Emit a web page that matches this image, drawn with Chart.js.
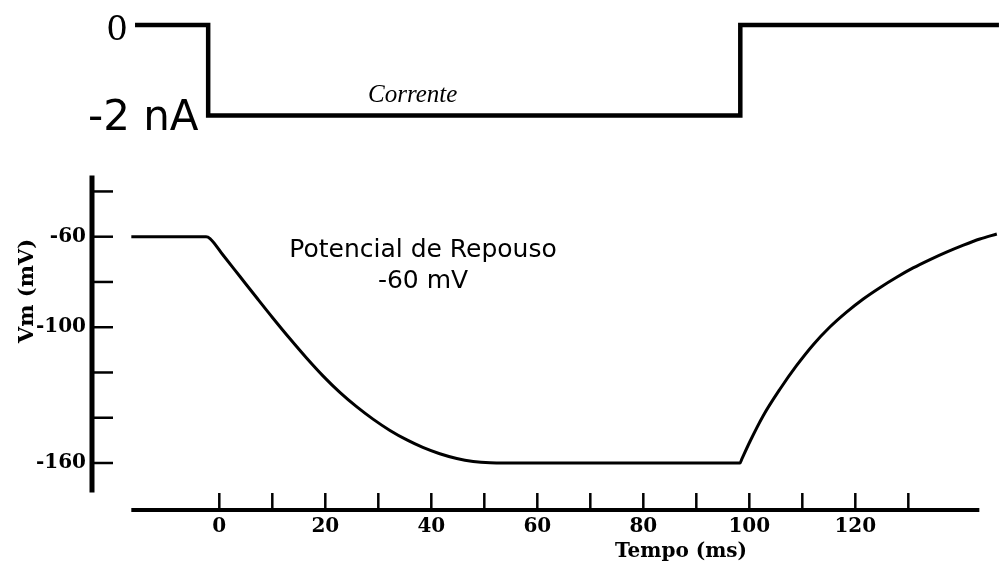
<!DOCTYPE html>
<html>
<head>
<meta charset="utf-8">
<style>
  html, body { margin: 0; padding: 0; background: #fff; }
  #wrap { width: 999px; height: 562px; position: relative; }
</style>
</head>
<body>
<div id="wrap">
  <canvas id="myChart"></canvas>
</div>
<script src="https://cdn.jsdelivr.net/npm/chart.js"></script>
<script>

// membrane potential trace: time (ms) / Vm (mV)
const vmTime = [-16.6, -2.5, -1.75, 0.7, 3.9, 7.1, 10.1, 13.3, 16.5, 19.6, 22.8, 25.9, 29.0, 32.2, 35.4, 38.4, 41.6, 44.8, 47.9, 51.1, 54,
                98.25, 98.6, 100.1, 102.6, 105.8, 108.9, 112.1, 115.2, 118.4, 121.5, 124.7, 127.8, 130.9, 134.1, 137.2, 140.4, 143.5, 146.7];
const vmValues = [-60, -60, -60.8, -68.1, -77.6, -87.1, -95.9, -105.0, -113.7, -121.6, -128.9, -135.1, -140.6, -145.6, -149.8, -153.1, -155.9, -158.0, -159.3, -159.9, -160,
                  -160, -158.2, -150.6, -139.2, -127.3, -117.0, -107.6, -99.9, -93.2, -87.5, -82.4, -77.9, -73.8, -70.1, -66.8, -63.7, -61.0, -58.8];

// injected current step: time (ms) / I (nA)
const currentTime = [-15.9, -2.1, -2.1, 98.3, 98.3, 147.1];
const currentValues = [0, 0, -2, -2, 0, 0];

const timeTicks = [0, 10, 20, 30, 40, 50, 60, 70, 80, 90, 100, 110, 120, 130];
const timeLabels = [0, 20, 40, 60, 80, 100, 120];
const vmTicks = [-160, -140, -120, -100, -80, -60, -40];
const vmLabels = [-60, -100, -160];

const serifBold = { family: 'DejaVu Serif', weight: 'bold', size: 20 };

const drawExtras = {
  id: 'drawExtras',
  afterDraw(chart) {
    const ctx = chart.ctx;
    const x = chart.scales.x;
    const y = chart.scales.y;
    const area = chart.chartArea;
    ctx.save();
    ctx.strokeStyle = '#000';
    ctx.fillStyle = '#000';
    ctx.lineCap = 'butt';

    // Vm axis line + inner ticks
    const axX = area.left - 39;
    ctx.lineWidth = 5;
    ctx.beginPath();
    ctx.moveTo(axX, y.getPixelForValue(-33));
    ctx.lineTo(axX, y.getPixelForValue(-173));
    ctx.stroke();
    ctx.lineWidth = 2.5;
    y.ticks.forEach(function(t) {
      const py = y.getPixelForValue(t.value);
      ctx.beginPath();
      ctx.moveTo(axX + 2, py);
      ctx.lineTo(axX + 21, py);
      ctx.stroke();
    });

    // time axis line + upward ticks
    ctx.lineWidth = 4;
    ctx.beginPath();
    ctx.moveTo(x.getPixelForValue(-16.6), area.bottom);
    ctx.lineTo(x.getPixelForValue(143.4), area.bottom);
    ctx.stroke();
    ctx.lineWidth = 2.5;
    x.ticks.forEach(function(t) {
      const px = x.getPixelForValue(t.value);
      ctx.beginPath();
      ctx.moveTo(px, area.bottom - 17);
      ctx.lineTo(px, area.bottom);
      ctx.stroke();
    });

    // texts
    ctx.textBaseline = 'alphabetic';
    ctx.textAlign = 'right';
    ctx.font = '34px "DejaVu Serif"';
    ctx.fillText('0', 128, 40);
    ctx.textAlign = 'left';
    ctx.font = '42px "DejaVu Sans"';
    ctx.fillText('-2 nA', 88, 130);
    ctx.font = 'italic 25px "Liberation Serif"';
    ctx.fillText('Corrente', 368, 102);

    ctx.textAlign = 'center';
    ctx.font = '25px "DejaVu Sans"';
    ctx.fillText('Potencial de Repouso', 423, 257);
    ctx.fillText('-60 mV', 423, 288);

    ctx.font = 'bold 20px "DejaVu Serif"';
    ctx.fillText('Tempo (ms)', 681, 557);

    ctx.translate(33, 291);
    ctx.rotate(-Math.PI / 2);
    ctx.font = 'bold 21px "DejaVu Serif"';
    ctx.fillText('Vm (mV)', 0, 0);
    ctx.restore();
  }
};

const config = {
  type: 'line',
  data: {
    datasets: [
      {
        label: 'Vm',
        data: vmTime.map(function(t, i) { return { x: t, y: vmValues[i] }; }),
        borderColor: '#000',
        borderWidth: 3,
        pointRadius: 0,
        cubicInterpolationMode: 'monotone',
        yAxisID: 'y'
      },
      {
        label: 'Corrente',
        data: currentTime.map(function(t, i) { return { x: t, y: currentValues[i] }; }),
        borderColor: '#000',
        borderWidth: 4.5,
        borderJoinStyle: 'miter',
        pointRadius: 0,
        tension: 0,
        yAxisID: 'yI'
      }
    ]
  },
  options: {
    responsive: true,
    maintainAspectRatio: false,
    animation: false,
    layout: { padding: { top: 10, left: 0, right: 0, bottom: 0 } },
    plugins: {
      legend: { display: false },
      tooltip: { enabled: false }
    },
    scales: {
      x: {
        type: 'linear',
        min: -16.66,
        max: 147.11,
        grid: { display: false, drawTicks: false },
        border: { display: false },
        afterBuildTicks: function(s) { s.ticks = timeTicks.map(function(v) { return { value: v }; }); },
        afterFit: function(s) { s.height = 52; s.paddingLeft = 0; s.paddingRight = 0; },
        ticks: {
          padding: 5,
          maxRotation: 0,
          autoSkip: false,
          color: '#000',
          font: serifBold,
          callback: function(v) { return timeLabels.includes(v) ? String(v) : ''; }
        }
      },
      y: {
        type: 'linear',
        position: 'left',
        min: -180.77,
        max: 40.18,
        grid: { display: false, drawTicks: false },
        border: { display: false },
        afterBuildTicks: function(s) { s.ticks = vmTicks.map(function(v) { return { value: v }; }); },
        afterFit: function(s) { s.width = 131; s.paddingTop = 0; s.paddingBottom = 0; },
        ticks: {
          padding: 45,
          autoSkip: false,
          color: '#000',
          font: serifBold,
          callback: function(v) { return vmLabels.includes(v) ? String(v) : ''; }
        }
      },
      yI: {
        type: 'linear',
        display: false,
        min: -10.718,
        max: 0.331
      }
    }
  },
  plugins: [drawExtras]
};

var chart = new Chart('myChart', config);

</script>
</body>
</html>
